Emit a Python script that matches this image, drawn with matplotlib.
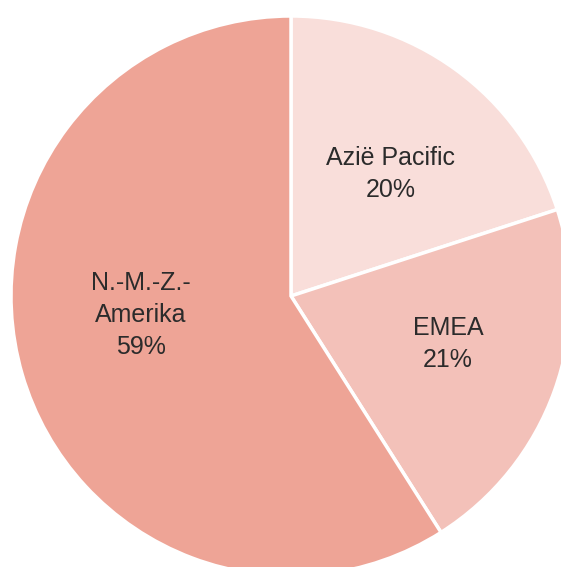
import matplotlib.pyplot as plt

# Data
regions = ['Azië Pacific', 'EMEA', 'N.-M.-Z.-\nAmerika']
shares = [20, 21, 59]
colors = ['#F9DEDA', '#F3C1B9', '#EEA496']

# label anchor points in pixel coords (x, y from bottom)
label_pos = [(391, 393), (448, 223), (141, 252)]

W, H = 561, 567
fig = plt.figure(figsize=(W / 100, H / 100), dpi=100)
ax = fig.add_axes([0, 0, 1, 1])

# pie is bigger than the canvas, cropped at right and bottom
ax.pie(shares, colors=colors, startangle=90, counterclock=False,
       center=(291, 271), radius=280,
       wedgeprops=dict(edgecolor='white', linewidth=2.5))

for name, val, (x, y) in zip(regions, shares, label_pos):
    ax.text(x, y, f'{name}\n{val}%', ha='center', va='center',
            fontsize=18, family='Liberation Sans', color='#2b2b2b',
            linespacing=1.4)

ax.set_xlim(0, W)
ax.set_ylim(0, H)
ax.set_aspect('auto')
ax.axis('off')

fig.savefig('out.png', dpi=100, facecolor='white')
